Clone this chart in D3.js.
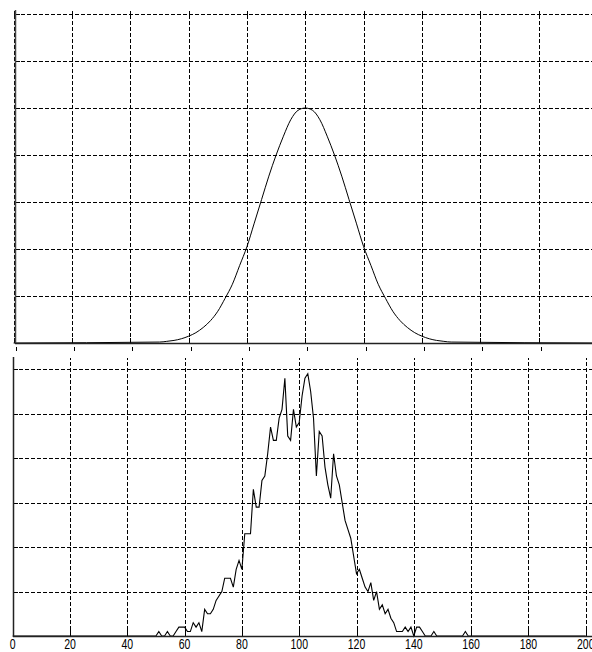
<!DOCTYPE html>
<html>
<head>
<meta charset="utf-8">
<script src="https://cdn.jsdelivr.net/npm/d3@7"></script>
<style>
  body { margin: 0; background: #fff; }
  svg { display: block; }
  .grid line { stroke: #000; stroke-dasharray: 4,2; shape-rendering: crispEdges; }
  .grid path { display: none; }
</style>
</head>
<body>
<div id="chart"></div>
<script>
// top panel: smooth curve
const topX = [0, 50, 52.5, 55, 57.5, 60, 62.5, 65, 67.5, 70, 72.5, 75, 77.5, 80, 82.5, 85, 87.5, 90, 92.5, 95, 97.5, 100,
              102.5, 105, 107.5, 110, 112.5, 115, 117.5, 120, 122.5, 125, 127.5, 130, 132.5, 135, 137.5, 140, 142.5, 145, 147.5, 150, 200];
const topY = [0, 0.004, 0.007, 0.011, 0.018, 0.029, 0.044, 0.066, 0.095, 0.135, 0.19, 0.25, 0.33, 0.41, 0.51, 0.61, 0.71, 0.80, 0.88, 0.95, 0.99, 1.00,
              0.99, 0.95, 0.88, 0.80, 0.71, 0.61, 0.51, 0.41, 0.33, 0.25, 0.19, 0.135, 0.095, 0.066, 0.044, 0.029, 0.018, 0.011, 0.007, 0.004, 0];

// bottom panel: noisy counts, one per integer bin starting at 50
const binStart = 50;
const counts = [0, 1, 0, 0, 1, 0, 0, 1, 2, 2, 2, 1, 1, 3, 2, 3, 1, 6, 5, 5,
                6, 8, 9, 10, 13, 13, 13, 11, 15, 17, 15, 23, 23, 23, 33, 29, 29, 35, 36, 41,
                47, 44, 44, 49, 51, 58, 45, 44, 51, 47, 48, 54, 58, 59, 55, 49, 36, 46, 45, 38,
                34, 31, 41, 36, 34, 30, 26, 24, 22, 18, 14, 15, 13, 11, 10, 12, 8, 10, 6, 7,
                5, 6, 4, 3, 1, 1, 1, 2, 1, 2, 0, 2, 2, 1, 0, 0, 0, 1, 0, 0,
                0, 0, 0, 0, 0, 0, 0, 0, 1, 0, 0];

const xTicks = [0, 20, 40, 60, 80, 100, 120, 140, 160, 180, 200];
const topYTicks = [0.2, 0.4, 0.6, 0.8, 1.0, 1.2, 1.4];
const botYTicks = [10, 20, 30, 40, 50, 60];

const width = 592, height = 652;

const svg = d3.select("#chart").append("svg")
    .attr("width", width)
    .attr("height", height);

// ---- top panel
const xTop = d3.scaleLinear().domain([0, 200]).range([13.6, 597]);
const yTop = d3.scaleLinear().domain([0, 1.4]).range([343, 14]);

svg.append("g").attr("class", "grid")
    .attr("transform", "translate(0,343)")
    .call(d3.axisBottom(xTop).tickValues(xTicks).tickSize(-332).tickFormat(""));
svg.append("g").attr("class", "grid")
    .attr("transform", "translate(15,0)")
    .call(d3.axisLeft(yTop).tickValues(topYTicks).tickSize(-590).tickFormat(""));

// inner ticks
const topTicks = svg.append("g").attr("stroke", "#000").attr("shape-rendering", "crispEdges");
topTicks.selectAll(".tb").data(xTicks).join("line")
    .attr("x1", d => Math.round(xTop(d)) + 0.5).attr("x2", d => Math.round(xTop(d)) + 0.5)
    .attr("y1", 343).attr("y2", 338);
topTicks.selectAll(".tt").data(xTicks).join("line")
    .attr("x1", d => Math.round(xTop(d)) + 0.5).attr("x2", d => Math.round(xTop(d)) + 0.5)
    .attr("y1", 11).attr("y2", 15);
topTicks.selectAll(".tl").data(topYTicks).join("line")
    .attr("x1", 15).attr("x2", 20)
    .attr("y1", d => Math.round(yTop(d)) + 0.5).attr("y2", d => Math.round(yTop(d)) + 0.5);
// stubs below the top panel
topTicks.selectAll(".ts").data(xTicks).join("line")
    .attr("x1", d => Math.round(xTop(d)) + 2.5).attr("x2", d => Math.round(xTop(d)) + 2.5)
    .attr("y1", 347).attr("y2", 351);

svg.append("path")
    .datum(topX.map((x, i) => [x, topY[i]]))
    .attr("fill", "none")
    .attr("stroke", "#000")
    .attr("stroke-width", 1)
    .attr("d", d3.line().x(d => xTop(d[0])).y(d => yTop(d[1])).curve(d3.curveMonotoneX));

// axis lines
svg.append("line").attr("x1", 15.5).attr("x2", 15.5).attr("y1", 10).attr("y2", 344)
    .attr("stroke", "#444").attr("stroke-width", 1.5);
svg.append("line").attr("x1", 15).attr("x2", width).attr("y1", 343.5).attr("y2", 343.5)
    .attr("stroke", "#222").attr("stroke-width", 1.5);

// ---- bottom panel
const xBot = d3.scaleLinear().domain([0, 200]).range([12.7, 585.7]);
const yBot = d3.scaleLinear().domain([0, 60]).range([636, 369.3]);

svg.append("g").attr("class", "grid")
    .attr("transform", "translate(0,636)")
    .call(d3.axisBottom(xBot).tickValues(xTicks).tickSize(-278).tickFormat(""));
svg.append("g").attr("class", "grid")
    .attr("transform", "translate(13,0)")
    .call(d3.axisLeft(yBot).tickValues(botYTicks).tickSize(-590).tickFormat(""));

const botTicks = svg.append("g").attr("stroke", "#000").attr("shape-rendering", "crispEdges");
botTicks.selectAll(".bb").data(xTicks).join("line")
    .attr("x1", d => Math.round(xBot(d)) + 0.5).attr("x2", d => Math.round(xBot(d)) + 0.5)
    .attr("y1", 636).attr("y2", 630);
botTicks.selectAll(".bl").data(botYTicks).join("line")
    .attr("x1", 13).attr("x2", 18)
    .attr("y1", d => Math.round(yBot(d)) + 0.5).attr("y2", d => Math.round(yBot(d)) + 0.5);

const botPts = [[0, 0]].concat(counts.map((c, i) => [binStart + i, c]), [[200, 0]]);
svg.append("path")
    .datum(botPts)
    .attr("fill", "none")
    .attr("stroke", "#000")
    .attr("stroke-width", 1.1)
    .attr("d", d3.line().x(d => xBot(d[0])).y(d => yBot(d[1])));

svg.append("line").attr("x1", 13.5).attr("x2", 13.5).attr("y1", 357).attr("y2", 637)
    .attr("stroke", "#222").attr("stroke-width", 1.5);
svg.append("line").attr("x1", 13).attr("x2", width).attr("y1", 636.5).attr("y2", 636.5)
    .attr("stroke", "#222").attr("stroke-width", 1.5);

// x tick labels (narrow, tall digits)
svg.append("g")
    .selectAll("text")
    .data(xTicks)
    .join("text")
    .attr("transform", d => `translate(${xBot(d)},648.5) scale(0.78,1.15)`)
    .attr("text-anchor", "middle")
    .attr("font-family", "Liberation Sans, Arial, sans-serif")
    .attr("font-size", 13.5)
    .attr("fill", "#000")
    .text(d => d);
</script>
</body>
</html>
